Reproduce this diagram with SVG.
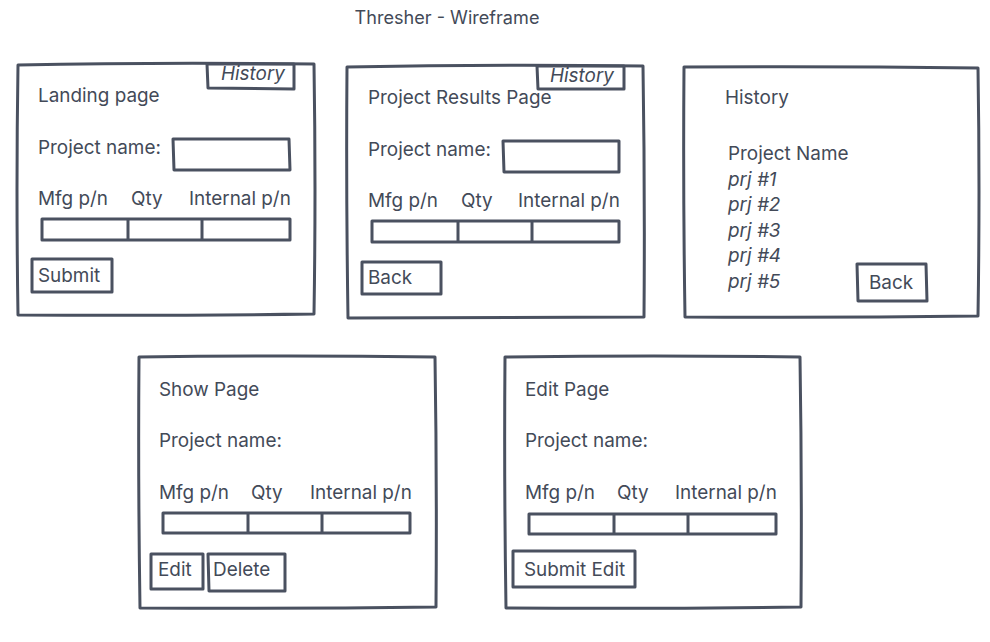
<svg xmlns="http://www.w3.org/2000/svg" width="990" height="642" viewBox="0 0 990 642">
<style>
.s{fill:none;stroke:#4a5160;stroke-width:3;stroke-linecap:round;stroke-linejoin:round}
.t{font-family:Inter,"Liberation Sans",sans-serif;font-size:18.9px;fill:#434a58}
.i{font-style:italic}
.ti{font-family:Inter,"Liberation Sans",sans-serif;font-size:18.1px;fill:#434a58}
</style>
<rect width="990" height="642" fill="#ffffff"/>
<text class="ti" x="447" y="24" text-anchor="middle">Thresher - Wireframe</text>

<g id="landing">
<path class="s" d="M18 65 Q160 62 314 64 Q316 190 314 314 Q165 316 18 315 Q16 190 18 65 Z"/>
<path class="s" d="M207 64 L294 64 L294 89 L208 88 Z"/>
<text class="t i" x="221" y="80">History</text>
<text class="t" x="38" y="102">Landing page</text>
<text class="t" x="38" y="154">Project name:</text>
<path class="s" d="M173 139 L289 139 L290 170 L174 170 Z"/>
<text class="t" x="38" y="205">Mfg p/n</text>
<text class="t" x="131" y="205">Qty</text>
<text class="t" x="189" y="205">Internal p/n</text>
<path class="s" d="M42 219 L290 219 L290 240 L42 240 Z M128 219 L128 240 M202 219 L202 240"/>
<path class="s" d="M32 259 L112 259 L112 292 L32 292 Z"/>
<text class="t" x="38" y="282">Submit</text>
</g>

<g id="results">
<path class="s" d="M347 67 Q495 64 643 66 Q645 190 644 317 Q495 318 348 318 Q346 190 347 67 Z"/>
<path class="s" d="M537 66 L624 66 L624 89 L538 89 Z"/>
<text class="t i" x="550" y="82">History</text>
<text class="t" x="368" y="104">Project Results Page</text>
<text class="t" x="368" y="156">Project name:</text>
<path class="s" d="M503 141 L619 141 L619 172 L504 172 Z"/>
<text class="t" x="368" y="207">Mfg p/n</text>
<text class="t" x="461" y="207">Qty</text>
<text class="t" x="518" y="207">Internal p/n</text>
<path class="s" d="M372 221 L619 221 L619 242 L372 242 Z M458 221 L458 242 M532 221 L532 242"/>
<path class="s" d="M362 262 L441 262 L441 294 L362 294 Z"/>
<text class="t" x="368" y="284">Back</text>
</g>

<g id="history">
<path class="s" d="M684 67 Q830 66 978 68 Q980 190 978 316 Q830 318 685 317 Q683 190 684 67 Z"/>
<text class="t" x="725" y="104">History</text>
<text class="t" x="728" y="160">Project Name</text>
<text class="t i" x="728" y="186">prj #1</text>
<text class="t i" x="728" y="211">prj #2</text>
<text class="t i" x="728" y="237">prj #3</text>
<text class="t i" x="728" y="262">prj #4</text>
<text class="t i" x="728" y="288">prj #5</text>
<path class="s" d="M857 264 L926 264 L927 301 L858 301 Z"/>
<text class="t" x="869" y="289">Back</text>
</g>

<g id="show">
<path class="s" d="M139 357 Q290 355 435 357 Q437 480 436 607 Q290 609 140 608 Q138 480 139 357 Z"/>
<text class="t" x="159" y="396">Show Page</text>
<text class="t" x="159" y="447">Project name:</text>
<text class="t" x="159" y="499">Mfg p/n</text>
<text class="t" x="251" y="499">Qty</text>
<text class="t" x="310" y="499">Internal p/n</text>
<path class="s" d="M163 513 L410 513 L410 533 L163 533 Z M248 513 L248 533 M322 513 L322 533"/>
<path class="s" d="M151 554 L203 554 L203 589 L151 589 Z"/>
<text class="t" x="158" y="576">Edit</text>
<path class="s" d="M208 554 L285 554 L285 591 L209 591 Z"/>
<text class="t" x="213" y="576">Delete</text>
</g>

<g id="edit">
<path class="s" d="M505 357 Q655 355 800 357 Q802 480 801 607 Q655 609 506 608 Q504 480 505 357 Z"/>
<text class="t" x="525" y="396">Edit Page</text>
<text class="t" x="525" y="447">Project name:</text>
<text class="t" x="525" y="499">Mfg p/n</text>
<text class="t" x="617" y="499">Qty</text>
<text class="t" x="675" y="499">Internal p/n</text>
<path class="s" d="M529 514 L776 514 L776 534 L529 534 Z M614 514 L614 534 M688 514 L688 534"/>
<path class="s" d="M513 551 L635 551 L635 587 L513 587 Z"/>
<text class="t" x="524" y="576">Submit Edit</text>
</g>

<g id="connectors"></g>
</svg>
